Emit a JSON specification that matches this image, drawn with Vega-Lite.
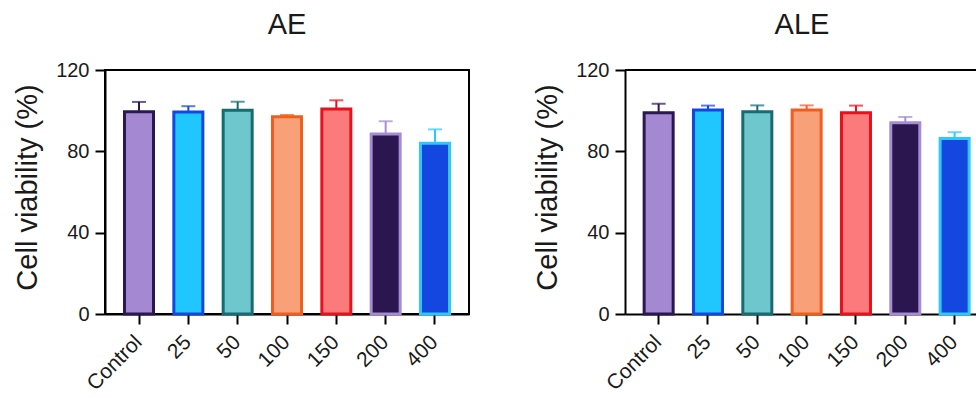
{
  "$schema": "https://vega.github.io/schema/vega-lite/v6.json",
  "padding": {"left": 12, "top": 10, "right": 0, "bottom": 0},
  "bounds": "flush",
  "spacing": 156,
  "config": {
    "font": "Liberation Sans",
    "view": {"stroke": null},
    "axis": {"domainColor": "black", "domainWidth": 2, "tickColor": "black", "tickWidth": 2, "tickSize": 10, "grid": false, "labelFont": "Liberation Sans", "labelFontSize": 20, "labelColor": "#1a1a1a", "titleFont": "Liberation Sans", "titleFontSize": 29, "titleFontWeight": "normal", "titleColor": "#1a1a1a", "labelPadding": 6},
    "axisX": {"labelAngle": -45, "labelAlign": "right", "labelBaseline": "top", "labelPadding": 7, "labelOffset": -8, "labelFontSize": 21},
    "title": {"font": "Liberation Sans", "fontSize": 29, "fontWeight": "normal", "color": "#1a1a1a", "offset": 20}
  },
  "datasets": {
    "AE": [
      {"dose": "Control", "mean": 99.5, "upper": 104.3},
      {"dose": "25", "mean": 99.3, "upper": 102.2},
      {"dose": "50", "mean": 100.2, "upper": 104.4},
      {"dose": "100", "mean": 97.0, "upper": 97.9},
      {"dose": "150", "mean": 100.8, "upper": 105.1},
      {"dose": "200", "mean": 88.5, "upper": 94.8},
      {"dose": "400", "mean": 84.0, "upper": 90.8}
    ],
    "ALE": [
      {"dose": "Control", "mean": 99.0, "upper": 103.4},
      {"dose": "25", "mean": 100.3, "upper": 102.5},
      {"dose": "50", "mean": 99.5, "upper": 102.6},
      {"dose": "100", "mean": 100.3, "upper": 102.6},
      {"dose": "150", "mean": 99.0, "upper": 102.5},
      {"dose": "200", "mean": 94.0, "upper": 96.9},
      {"dose": "400", "mean": 86.3, "upper": 89.4}
    ]
  },
  "hconcat": [
    {
      "title": "AE",
      "data": {"name": "AE"},
      "width": 364,
      "height": 244,
      "view": {"stroke": "black", "strokeWidth": 2},
      "layer": [
        {
          "mark": {"type": "bar", "strokeWidth": 3},
          "encoding": {
            "x": {"field": "dose", "type": "nominal", "sort": null, "scale": {"paddingInner": 0.412, "paddingOuter": 0.3955}, "axis": {"title": null}},
            "y": {"field": "mean", "type": "quantitative", "scale": {"domain": [0, 120], "nice": false}, "axis": {"values": [0, 40, 80, 120], "title": "Cell viability (%)", "titlePadding": 13, "titleY": 117}},
            "fill": {"field": "dose", "type": "nominal", "legend": null, "scale": {"domain": ["Control", "25", "50", "100", "150", "200", "400"], "range": ["#a488d2", "#20c6fe", "#6ec7cc", "#f8a077", "#fb7b7c", "#2c164f", "#1446e0"]}},
            "stroke": {"field": "dose", "type": "nominal", "legend": null, "scale": {"domain": ["Control", "25", "50", "100", "150", "200", "400"], "range": ["#2a1850", "#1446e0", "#176b72", "#ee5f1e", "#e8101a", "#a68cd4", "#2ec8fe"]}}
          }
        },
        {
          "mark": {"type": "rule", "strokeWidth": 2},
          "encoding": {
            "x": {"field": "dose", "type": "nominal", "sort": null},
            "y": {"field": "mean", "type": "quantitative", "scale": {"domain": [0, 120], "nice": false}},
            "y2": {"field": "upper"},
            "stroke": {"field": "dose", "type": "nominal", "legend": null}
          }
        },
        {
          "mark": {"type": "tick", "thickness": 2, "size": 14},
          "encoding": {
            "x": {"field": "dose", "type": "nominal", "sort": null},
            "y": {"field": "upper", "type": "quantitative", "scale": {"domain": [0, 120], "nice": false}},
            "color": {"field": "dose", "type": "nominal", "legend": null, "scale": {"domain": ["Control", "25", "50", "100", "150", "200", "400"], "range": ["#2a1850", "#1446e0", "#176b72", "#ee5f1e", "#e8101a", "#a68cd4", "#2ec8fe"]}}
          }
        }
      ]
    },
    {
      "title": "ALE",
      "data": {"name": "ALE"},
      "width": 354,
      "height": 244,
      "layer": [
        {
          "mark": {"type": "bar", "strokeWidth": 3},
          "encoding": {
            "x": {"field": "dose", "type": "nominal", "sort": null, "scale": {"paddingInner": 0.412, "paddingOuter": 0.294, "align": 0.66}, "axis": {"title": null}},
            "y": {"field": "mean", "type": "quantitative", "scale": {"domain": [0, 120], "nice": false}, "axis": {"values": [0, 40, 80, 120], "title": "Cell viability (%)", "titlePadding": 13, "titleY": 117}},
            "fill": {"field": "dose", "type": "nominal", "legend": null, "scale": {"domain": ["Control", "25", "50", "100", "150", "200", "400"], "range": ["#a488d2", "#20c6fe", "#6ec7cc", "#f8a077", "#fb7b7c", "#2c164f", "#1446e0"]}},
            "stroke": {"field": "dose", "type": "nominal", "legend": null, "scale": {"domain": ["Control", "25", "50", "100", "150", "200", "400"], "range": ["#2a1850", "#1446e0", "#176b72", "#ee5f1e", "#e8101a", "#a68cd4", "#2ec8fe"]}}
          }
        },
        {
          "mark": {"type": "rule", "strokeWidth": 2},
          "encoding": {
            "x": {"field": "dose", "type": "nominal", "sort": null},
            "y": {"field": "mean", "type": "quantitative", "scale": {"domain": [0, 120], "nice": false}},
            "y2": {"field": "upper"},
            "stroke": {"field": "dose", "type": "nominal", "legend": null}
          }
        },
        {
          "mark": {"type": "tick", "thickness": 2, "size": 14},
          "encoding": {
            "x": {"field": "dose", "type": "nominal", "sort": null},
            "y": {"field": "upper", "type": "quantitative", "scale": {"domain": [0, 120], "nice": false}},
            "color": {"field": "dose", "type": "nominal", "legend": null, "scale": {"domain": ["Control", "25", "50", "100", "150", "200", "400"], "range": ["#2a1850", "#1446e0", "#176b72", "#ee5f1e", "#e8101a", "#a68cd4", "#2ec8fe"]}}
          }
        },
        {
          "data": {"values": [{"top": 120}]},
          "mark": {"type": "rule", "strokeWidth": 2, "color": "black"},
          "encoding": {
            "y": {"field": "top", "type": "quantitative", "scale": {"domain": [0, 120], "nice": false}}
          }
        }
      ]
    }
  ]
}
